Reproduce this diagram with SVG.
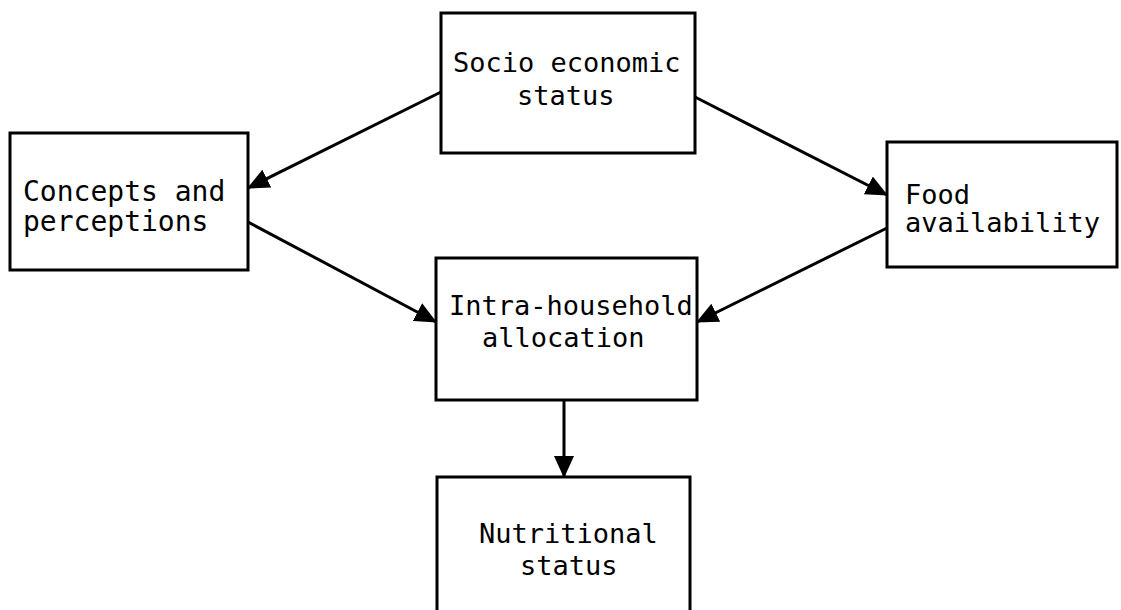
<svg xmlns="http://www.w3.org/2000/svg" width="1121" height="610" viewBox="0 0 1121 610">
<style>
.box{fill:#fff;stroke:#000;stroke-width:3}
.lbl{font-family:"DejaVu Sans Mono","Liberation Mono",monospace;font-size:27px;fill:#000}
.con{stroke:#000;stroke-width:3;fill:none;marker-end:url(#ah)}
</style>
<defs>
<marker id="ah" markerUnits="userSpaceOnUse" markerWidth="22" markerHeight="20" refX="21" refY="10" orient="auto">
<path d="M0,0 L22,10 L0,20 z" fill="#000"/>
</marker>
</defs>
<rect width="1121" height="610" fill="#fff"/>
<g id="connectors">
<line class="con" x1="441" y1="92" x2="248" y2="188"/>
<line class="con" x1="248" y1="222" x2="436" y2="322"/>
<line class="con" x1="695" y1="97" x2="887" y2="195"/>
<line class="con" x1="887" y1="228" x2="697" y2="322"/>
<line class="con" x1="564" y1="400" x2="564" y2="477"/>
</g>
<g id="socio">
<rect class="box" x="441" y="13" width="254" height="140"/>
<text class="lbl" x="453" y="72">Socio economic</text>
<text class="lbl" x="517" y="105">status</text>
</g>
<g id="concepts">
<rect class="box" x="10" y="133" width="238" height="137"/>
<text class="lbl" x="23" y="201" style="font-size:28px">Concepts and</text>
<text class="lbl" x="23" y="231" style="font-size:28px">perceptions</text>
</g>
<g id="food">
<rect class="box" x="887" y="142" width="230" height="125"/>
<text class="lbl" x="905" y="204">Food</text>
<text class="lbl" x="905" y="232">availability</text>
</g>
<g id="intra">
<rect class="box" x="436" y="258" width="261" height="142"/>
<text class="lbl" x="449" y="315">Intra-household</text>
<text class="lbl" x="482" y="347">allocation</text>
</g>
<g id="nutritional">
<rect class="box" x="437" y="477" width="253" height="140"/>
<text class="lbl" x="479" y="543">Nutritional</text>
<text class="lbl" x="520" y="575">status</text>
</g>
</svg>
